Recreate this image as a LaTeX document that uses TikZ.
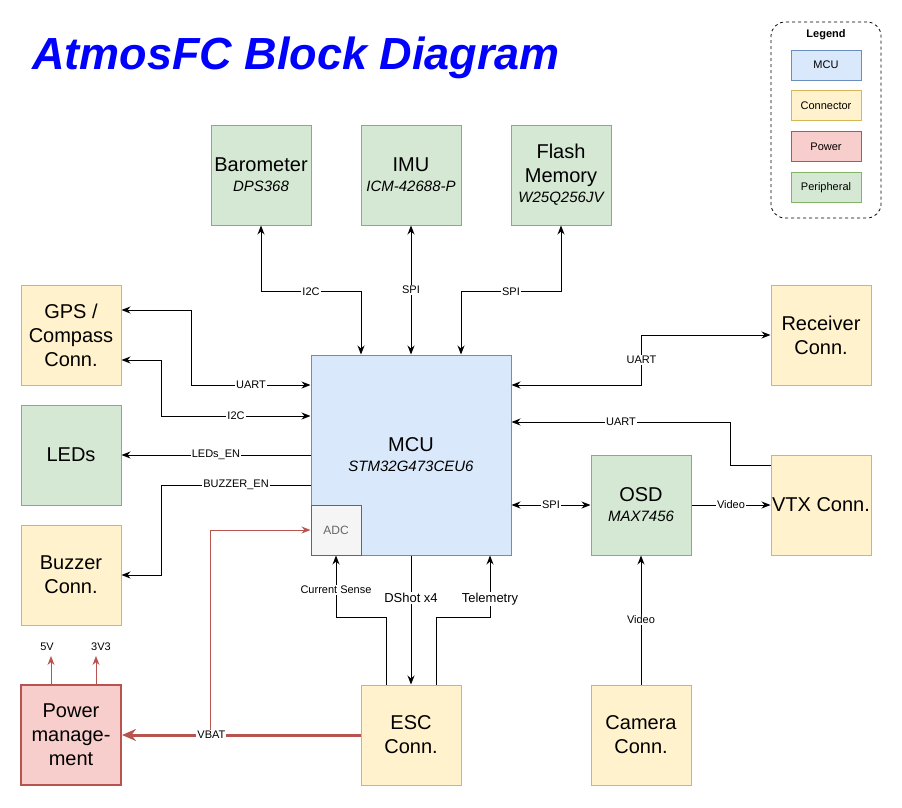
\documentclass[tikz,border=0pt]{standalone}
\usepackage{fontspec}
\setmainfont{Liberation Sans}
\usetikzlibrary{positioning,arrows.meta,calc}

\definecolor{mcufill}{HTML}{DAE8FC}
\definecolor{mculine}{HTML}{6C8EBF}
\definecolor{connfill}{HTML}{FFF2CC}
\definecolor{connline}{HTML}{D6B656}
\definecolor{pwrfill}{HTML}{F8CECC}
\definecolor{pwrline}{HTML}{B85450}
\definecolor{perfill}{HTML}{D5E8D4}
\definecolor{perline}{HTML}{82B366}
\definecolor{adcfill}{HTML}{F5F5F5}
\definecolor{adcline}{HTML}{666666}

\newcommand{\chipid}[1]{\\[-4pt]{\fontsize{15}{18}\selectfont\itshape #1}}

\begin{document}
\begin{tikzpicture}[
  x=1pt, y=-1pt,
  font=\fontsize{20}{24}\selectfont,
  box/.style={draw, line width=1pt, minimum width=100pt, minimum height=100pt,
              inner sep=0pt, align=center},
  mcubox/.style={box, fill=mcufill, draw=mculine},
  connbox/.style={box, fill=connfill, draw=connline},
  pwrbox/.style={box, fill=pwrfill, draw=pwrline},
  perbox/.style={box, fill=perfill, draw=perline},
  keybox/.style={draw, line width=0.8pt, minimum width=70pt, minimum height=30pt,
                 inner sep=0pt, font=\fontsize{11}{13}\selectfont},
  lbl/.style={fill=white, inner sep=1pt, font=\fontsize{11}{13}\selectfont},
  biglbl/.style={lbl, font=\fontsize{13}{15}\selectfont},
  arr/.style={-{Stealth[length=9pt,width=7pt]}, line width=1pt},
  biarr/.style={{Stealth[length=9pt,width=7pt]}-{Stealth[length=9pt,width=7pt]}, line width=1pt},
  pwrarr/.style={-{Stealth[length=9pt,width=7pt]}, line width=1pt, draw=pwrline}
]
\useasboundingbox (0,0) rectangle (902,807);

\node[font=\fontsize{45}{52}\selectfont\bfseries\itshape, text=blue] (title) at (296,58)
  {AtmosFC Block Diagram};

% legend
\node[draw, dashed, rounded corners=14pt, line width=0.8pt, minimum width=110pt,
      minimum height=196pt] (legend) at (826,120) {};
\node[font=\fontsize{11}{13}\selectfont\bfseries] (legendtitle) at (826,35) {Legend};
\node[keybox, fill=mcufill, draw=mculine] (keymcu) at (826,65) {MCU};
\node[keybox, fill=connfill, draw=connline, below=10pt of keymcu] (keyconn) {Connector};
\node[keybox, fill=pwrfill, draw=pwrline, below=10pt of keyconn] (keypwr) {Power};
\node[keybox, fill=perfill, draw=perline, below=10pt of keypwr] (keyper) {Peripheral};

% blocks
\node[mcubox, minimum width=200pt, minimum height=200pt] (mcu) at (411,455)
  {MCU\chipid{STM32G473CEU6}};
\node[box, fill=adcfill, draw=adcline, minimum width=50pt, minimum height=50pt,
      font=\fontsize{12}{14}\selectfont, text=adcline] (adc) at (336,530) {ADC};
\node[perbox] (baro) at (261,175) {Barometer\chipid{DPS368}};
\node[perbox] (imu) at (411,175) {IMU\chipid{ICM-42688-P}};
\node[perbox] (flash) at (561,175) {Flash\\Memory\chipid{W25Q256JV}};
\node[connbox] (gps) at (71,335) {GPS /\\Compass\\Conn.};
\node[perbox] (leds) at (71,455) {LEDs};
\node[connbox] (buzzer) at (71,575) {Buzzer\\Conn.};
\node[pwrbox, line width=2pt] (pm) at (71,735) {Power\\manage-\\ment};
\node[connbox] (rx) at (821,335) {Receiver\\Conn.};
\node[connbox] (vtx) at (821,505) {VTX Conn.};
\node[perbox] (osd) at (641,505) {OSD\chipid{MAX7456}};
\node[connbox] (esc) at (411,735) {ESC\\Conn.};
\node[connbox] (cam) at (641,735) {Camera\\Conn.};

% sensor buses
\draw[biarr] (baro.south) -- ++(0,66) -- node[lbl]{I2C} ++(100,0) -- ([xshift=-50pt]mcu.north);
\draw[biarr] (imu.south) -- node[lbl, pos=0.5]{SPI} (mcu.north);
\draw[biarr] (flash.south) -- ++(0,66) -- node[lbl]{SPI} ++(-100,0) -- ([xshift=50pt]mcu.north);

% left side
\draw[biarr] ([yshift=25pt]gps.east) -- ++(70,0) |- node[lbl, pos=0.75]{UART} ([yshift=70pt]mcu.west);
\draw[biarr] ([yshift=-25pt]gps.east) -- ++(40,0) |- node[lbl, pos=0.75]{I2C} ([yshift=39pt]mcu.west);
\draw[arr] (mcu.west) -- node[lbl]{LEDs\_EN} (leds.east);
\draw[arr] ([yshift=-30pt]mcu.west) -| node[lbl, pos=0.25]{BUZZER\_EN} ([xshift=40pt]buzzer.east) -- (buzzer.east);

% right side
\draw[biarr] ([yshift=70pt]mcu.east) -- ++(130,0) |- node[lbl, pos=0.25]{UART} (rx.west);
\draw[arr] ([yshift=40pt]vtx.west) -- ++(-40,0) |- node[lbl, pos=0.75]{UART} ([yshift=33pt]mcu.east);
\draw[biarr] ([yshift=-50pt]mcu.east) -- node[lbl]{SPI} (osd.west);
\draw[arr] (osd.east) -- node[lbl]{Video} (vtx.west);
\draw[arr] (cam.north) -- node[lbl, pos=0.5]{Video} (osd.south);

% ESC links
\draw[arr] ([xshift=-25pt]esc.north) -- ++(0,-67) -- ++(-50,0)
  -- node[lbl, pos=0.45]{Current Sense} (adc.south);
\draw[arr] (mcu.south) -- node[biglbl, pos=0.33]{DShot x4} (esc.north);
\draw[arr] ([xshift=25pt]esc.north) -- ++(0,-67) -- ++(54,0)
  -- node[biglbl, pos=0.3]{Telemetry} ([xshift=79pt]mcu.south);

% power
\draw[pwrarr] (esc.west) -- ++(-150,0) |- (adc.west);
\draw[-{Stealth[length=14pt,width=12pt]}, line width=3pt, draw=pwrline] (esc.west)
  -- node[lbl, pos=0.625]{VBAT} (pm.east);
\draw[pwrarr] ([xshift=-20pt]pm.north) -- ++(0,-28) node[above, inner sep=5pt,
  font=\fontsize{11}{13}\selectfont, xshift=-4pt]{5V};
\draw[pwrarr] ([xshift=25pt]pm.north) -- ++(0,-28) node[above, inner sep=5pt,
  font=\fontsize{11}{13}\selectfont, xshift=5pt]{3V3};
\end{tikzpicture}
\end{document}
